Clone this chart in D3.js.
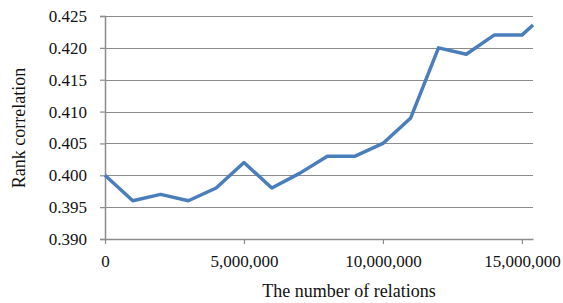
<!DOCTYPE html>
<html>
<head>
<meta charset="utf-8">
<script src="https://cdn.jsdelivr.net/npm/d3@7"></script>
<style>
  body { margin: 0; background: #fff; }
  text { font-family: "Liberation Serif", "Times New Roman", serif; fill: #111; }
</style>
</head>
<body>
<div id="chart"></div>
<script>
// number of relations (x) and rank correlation (y)
const relations = [0, 1e6, 2e6, 3e6, 4e6, 5e6, 6e6, 7e6, 8e6, 9e6, 10e6, 11e6, 12e6, 13e6, 14e6, 15e6, 15.4e6];
const correlation = [0.400, 0.396, 0.397, 0.396, 0.398, 0.402, 0.398, 0.4003, 0.403, 0.403, 0.405, 0.409, 0.420, 0.419, 0.422, 0.422, 0.4236];
const yTicks = [0.390, 0.395, 0.400, 0.405, 0.410, 0.415, 0.420, 0.425];
const xTicks = [0, 5e6, 10e6, 15e6];

const width = 563, height = 303;
const margin = {top: 16, right: 30, bottom: 64, left: 105};

let svg = d3.select("#chart")
    .append("svg")
    .attr("width", width)
    .attr("height", height);

let data = relations.map(function(r, i) { return {x: r, y: correlation[i]}; });

let x = d3.scaleLinear()
    .domain([0, 15.4e6])
    .range([margin.left, width - margin.right]);

let y = d3.scaleLinear()
    .domain([0.390, 0.425])
    .range([height - margin.bottom, margin.top]);

// horizontal gridlines
svg.append("g")
    .selectAll("line")
    .data(yTicks.slice(1))
    .join("line")
    .attr("x1", margin.left)
    .attr("x2", width - margin.right)
    .attr("y1", function(d) { return Math.round(y(d)) + 0.5; })
    .attr("y2", function(d) { return Math.round(y(d)) + 0.5; })
    .attr("stroke", "#8c8c8c")
    .attr("stroke-width", 1.2);

// y axis
let yAxis = svg.append("g")
    .attr("transform", `translate(${margin.left}, 0)`)
    .call(d3.axisLeft(y).tickValues(yTicks).tickFormat(d3.format(".3f")).tickSize(5).tickPadding(13));
yAxis.select(".domain").attr("stroke", "#8c8c8c").attr("stroke-width", 1.5);
yAxis.selectAll(".tick line").attr("stroke", "#8c8c8c").attr("stroke-width", 1.2);
yAxis.selectAll("text").style("font-size", "17px").attr("font-family", null).attr("fill", "#111");

// x axis
let xAxis = svg.append("g")
    .attr("transform", `translate(0, ${height - margin.bottom})`)
    .call(d3.axisBottom(x).tickValues(xTicks).tickFormat(d3.format(",")).tickSize(5).tickPadding(11).tickSizeOuter(0));
xAxis.select(".domain").attr("stroke", "#8c8c8c").attr("stroke-width", 1.5);
xAxis.selectAll(".tick line").attr("stroke", "#8c8c8c").attr("stroke-width", 1.2);
xAxis.selectAll("text").style("font-size", "17px").attr("font-family", null).attr("fill", "#111");

// data line
svg.append("path")
    .datum(data)
    .attr("fill", "none")
    .attr("stroke", "#4a7ebb")
    .attr("stroke-width", 3.5)
    .attr("stroke-linejoin", "round")
    .attr("d", d3.line()
        .x(function(d) { return x(d.x); })
        .y(function(d) { return y(d.y); }));

// axis titles
svg.append("text")
    .attr("x", 349)
    .attr("y", 297)
    .style("text-anchor", "middle")
    .style("font-size", "18px")
    .text("The number of relations");

svg.append("text")
    .attr("transform", `translate(25, 128) rotate(-90)`)
    .style("text-anchor", "middle")
    .style("font-size", "18px")
    .text("Rank correlation");
</script>
</body>
</html>
